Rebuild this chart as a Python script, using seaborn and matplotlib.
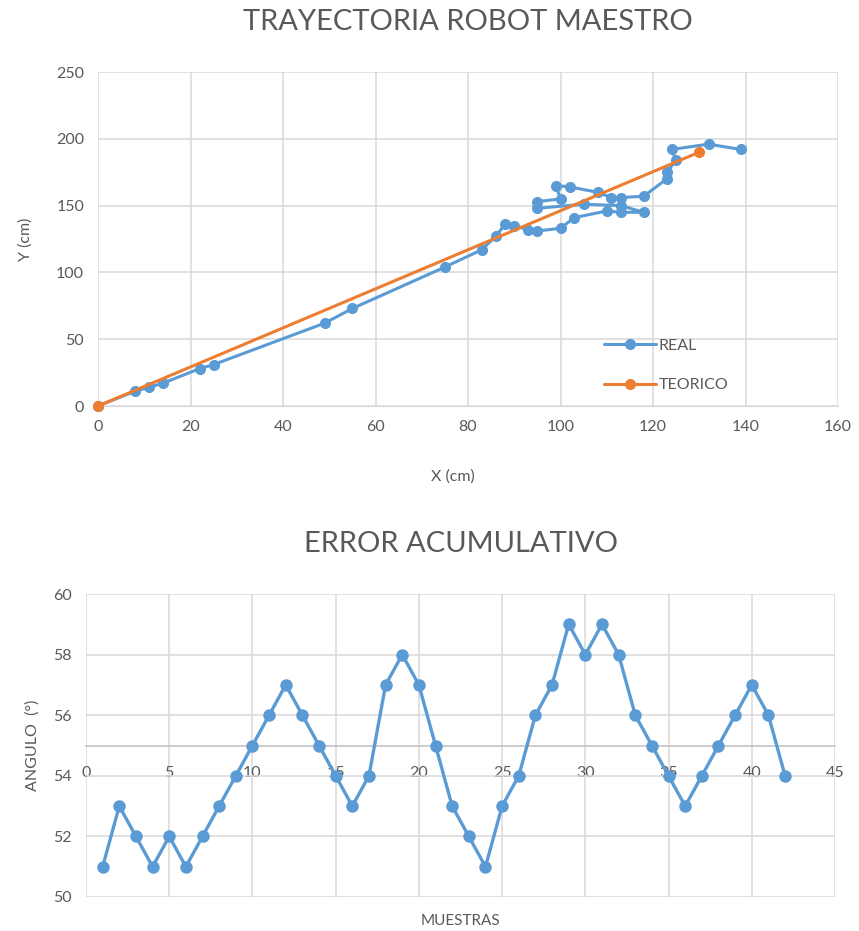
# trayectoria_robot.py
'''Trayectoria del robot maestro y error acumulativo del angulo'''

import matplotlib
matplotlib.use('Agg')
import matplotlib.pyplot as plt
import seaborn as sns

# trayectoria medida (REAL), en el orden en que se recorrio
real_x = [0, 8, 11, 14, 22, 25, 49, 55, 75, 83, 86, 88, 90, 93, 95, 100, 103,
          110, 113, 118, 113, 105, 95, 95, 100, 99, 102, 108, 111, 113, 118,
          123, 123, 125, 124, 132, 139]
real_y = [0, 11, 14, 17, 28, 31, 62, 73, 104, 117, 127, 136, 135, 132, 131,
          133, 141, 146, 145, 145, 150, 151, 148, 153, 155, 165, 164, 160, 156,
          156, 157, 170, 175, 184, 192, 196, 192]

# trayectoria teorica
teo_x = [0, 130]
teo_y = [0, 190]

# error acumulativo
muestras = list(range(1, 43))
angulo = [51, 53, 52, 51, 52, 51, 52, 53, 54, 55, 56, 57, 56, 55, 54, 53, 54,
          57, 58, 57, 55, 53, 52, 51, 53, 54, 56, 57, 59, 58, 59, 58, 56, 55,
          54, 53, 54, 55, 56, 57, 56, 54]

BLUE = '#5B9BD5'
ORANGE = '#ED7D31'
GRID = '#D9D9D9'
TEXT = '#595959'

sns.set_style('white')
plt.rcParams['font.family'] = ['Lato', 'DejaVu Sans']

W, H = 859, 931
fig = plt.figure(figsize=(W / 100, H / 100), dpi=100)

# ---- grafico superior: trayectoria ----
ax1 = fig.add_axes([98 / W, 1 - 406 / H, (838 - 98) / W, (406 - 72) / H])
sns.lineplot(x=real_x, y=real_y, sort=False, estimator=None, ax=ax1,
             color=BLUE, lw=2.2, marker='o', markersize=8, markeredgewidth=0,
             label='REAL', clip_on=False, zorder=3)
sns.lineplot(x=teo_x, y=teo_y, sort=False, estimator=None, ax=ax1,
             color=ORANGE, lw=2.2, marker='o', markersize=8,
             markeredgewidth=0, label='TEORICO', clip_on=False, zorder=4)
ax1.set_xlim(0, 160)
ax1.set_ylim(0, 250)
ax1.set_xticks(range(0, 161, 20))
ax1.set_yticks(range(0, 251, 50))
ax1.grid(True, color=GRID, lw=1.1)
ax1.set_axisbelow(True)
for s in ['top', 'right', 'left']:
    ax1.spines[s].set_visible(False)
ax1.spines['bottom'].set_color(GRID)
ax1.tick_params(length=0, labelsize=11.5, labelcolor=TEXT, pad=10)
ax1.set_xlabel('X (cm)', fontsize=11.5, color=TEXT)
ax1.set_ylabel('Y (cm)', fontsize=11.5, color=TEXT)
ax1.xaxis.set_label_coords(0.48, -0.19)
ax1.yaxis.set_label_coords(-0.088, 0.5)
ax1.set_title('TRAYECTORIA ROBOT MAESTRO', fontsize=21, color=TEXT, pad=30)
ax1.legend(loc='upper left', bbox_to_anchor=(0.665, 0.245), frameon=False,
           fontsize=11.5, labelcolor=TEXT, handlelength=3.2,
           handletextpad=0.2, labelspacing=1.6)

# ---- grafico inferior: error acumulativo ----
ax2 = fig.add_axes([86 / W, 1 - 897 / H, (835 - 86) / W, (897 - 594) / H])
sns.lineplot(x=muestras, y=angulo, ax=ax2, color=BLUE, lw=2.4, marker='o',
             markersize=9, markeredgewidth=0, zorder=3)
ax2.set_xlim(0, 45)
ax2.set_ylim(50, 60)
ax2.set_xticks(range(0, 46, 5))
ax2.set_yticks(range(50, 61, 2))
ax2.grid(True, color=GRID, lw=1.1)
ax2.set_axisbelow(True)
for s in ['top', 'right', 'left']:
    ax2.spines[s].set_visible(False)
ax2.spines['bottom'].set_position(('data', 55))
ax2.spines['bottom'].set_color('#BFBFBF')
ax2.spines['bottom'].set_linewidth(1.1)
ax2.tick_params(axis='x', length=0, labelsize=11.5, labelcolor=TEXT, pad=15)
ax2.tick_params(axis='y', length=0, labelsize=11.5, labelcolor=TEXT, pad=10)
ax2.set_xlabel('MUESTRAS', fontsize=11, color=TEXT)
ax2.set_ylabel('ANGULO  (°)', fontsize=11.5, color=TEXT)
ax2.xaxis.set_label_coords(0.5, -0.055)
ax2.yaxis.set_label_coords(-0.062, 0.5)
ax2.set_title('ERROR ACUMULATIVO', fontsize=21, color=TEXT, pad=30)

fig.savefig('out.png', dpi=100)
